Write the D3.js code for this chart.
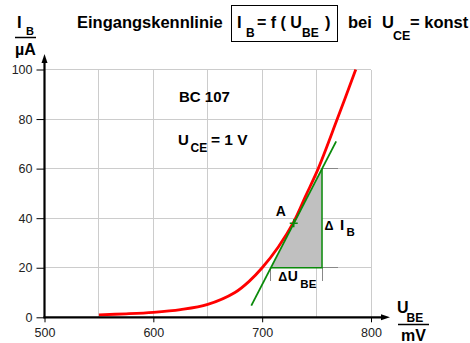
<!DOCTYPE html>
<html>
<head>
<meta charset="utf-8">
<script src="https://cdn.jsdelivr.net/npm/d3@7"></script>
<style>
  body { margin: 0; background: #fff; }
  svg { display: block; }
  text { font-family: "Liberation Sans", Arial, sans-serif; }
</style>
</head>
<body>
<svg id="chart" width="470" height="343"></svg>
<script>
// Input characteristic of the BC 107 transistor, U_CE = 1 V
const uTicks = [500, 600, 700, 800];            // mV
const iTicks = [0, 20, 40, 60, 80, 100];        // µA
const gridU = [550, 600, 650, 700, 750, 800];
const gridI = [20, 40, 60, 80, 100];

// measured curve I_B(U_BE)
const curveU = [550, 575, 600, 625, 650, 675, 688, 700, 715, 729, 740, 751.5, 769, 786];
const curveI = [1.0, 1.4, 2.0, 3.1, 5.2, 10.0, 14.5, 20, 28.5, 38.5, 49, 60, 80, 100];

// tangent in operating point A and its slope triangle
const tangentU = [690, 768];
const tangentI = [4.7, 71];
const triU = [708, 755];
const triI = [20, 60];
const pointA = [729, 38];

const svg = d3.select("#chart");
const x = d3.scaleLinear().domain([500, 800]).range([44.5, 371]);
const y = d3.scaleLinear().domain([0, 100]).range([317.3, 69.5]);

const gridColor = "#cccccc";
const green = "#0a8a0a";
const red = "#ff0000";

// grid
const grid = svg.append("g").attr("shape-rendering", "crispEdges");
grid.selectAll("line.v").data(gridU).join("line")
  .attr("x1", d => x(d)).attr("x2", d => x(d))
  .attr("y1", y(100)).attr("y2", y(0))
  .attr("stroke", gridColor).attr("stroke-width", 1);
grid.selectAll("line.h").data(gridI).join("line")
  .attr("x1", x(500)).attr("x2", x(800))
  .attr("y1", d => y(d)).attr("y2", d => y(d))
  .attr("stroke", gridColor).attr("stroke-width", 1);

// slope triangle
const tri = [[triU[0], triI[0]], [triU[1], triI[0]], [triU[1], triI[1]]];
svg.append("polygon")
  .attr("points", tri.map(p => [x(p[0]), y(p[1])].join(",")).join(" "))
  .attr("fill", "#c0c0c0");

// dimension lines
const dim = svg.append("g").attr("stroke", "#888").attr("stroke-width", 1).attr("shape-rendering", "crispEdges");
triI.forEach(v => {
  dim.append("line").attr("x1", x(triU[1])).attr("x2", x(triU[1]) + 16)
    .attr("y1", y(v)).attr("y2", y(v));
});
triU.forEach(v => {
  dim.append("line").attr("x1", x(v)).attr("x2", x(v))
    .attr("y1", y(triI[0])).attr("y2", y(triI[0]) + 13);
});

// characteristic curve
const curve = curveU.map((u, i) => [u, curveI[i]]);
svg.append("path")
  .datum(curve)
  .attr("d", d3.line().x(d => x(d[0])).y(d => y(d[1])).curve(d3.curveCatmullRom.alpha(0.5)))
  .attr("fill", "none").attr("stroke", red).attr("stroke-width", 2.8);

// tangent
svg.append("line")
  .attr("x1", x(tangentU[0])).attr("y1", y(tangentI[0]))
  .attr("x2", x(tangentU[1])).attr("y2", y(tangentI[1]))
  .attr("stroke", green).attr("stroke-width", 1.8);

// triangle legs
svg.append("polyline")
  .attr("points", tri.map(p => [x(p[0]), y(p[1])].join(",")).join(" "))
  .attr("fill", "none").attr("stroke", green).attr("stroke-width", 1.5);

// operating point A
const ax = x(pointA[0]), ay = y(pointA[1]);
svg.append("path")
  .attr("d", `M${ax - 4},${ay}H${ax + 4}M${ax},${ay - 4}V${ay + 4}`)
  .attr("stroke", green).attr("stroke-width", 1.5);

// axes
const yAxis = svg.append("g").attr("transform", `translate(${x(500)},0)`)
  .call(d3.axisLeft(y).tickValues(iTicks).tickSize(8).tickPadding(4));
yAxis.select(".domain").remove();
yAxis.selectAll("line").attr("stroke", "#000");
yAxis.selectAll("text").attr("font-size", 12.5).attr("fill", "#222")
  .style("font-family", "'Liberation Sans', Arial, sans-serif");

const xAxis = svg.append("g").attr("transform", `translate(0,${y(0)})`)
  .call(d3.axisBottom(x).tickValues(uTicks).tickSize(5).tickPadding(6));
xAxis.select(".domain").remove();
xAxis.selectAll("line").attr("stroke", "#000");
xAxis.selectAll("text").attr("font-size", 12.5).attr("fill", "#222")
  .style("font-family", "'Liberation Sans', Arial, sans-serif");

svg.append("line").attr("x1", x(500)).attr("x2", x(500))
  .attr("y1", y(0) + 1).attr("y2", 60).attr("stroke", "#000").attr("stroke-width", 2.2);
svg.append("path").attr("d", `M${x(500)},54 L${x(500) - 3},63 L${x(500) + 3},63 Z`).attr("fill", "#000");
svg.append("line").attr("x1", x(500) - 1).attr("x2", 384)
  .attr("y1", y(0)).attr("y2", y(0)).attr("stroke", "#000").attr("stroke-width", 2.2);
svg.append("path").attr("d", `M390,${y(0)} L381,${y(0) - 3} L381,${y(0) + 3} Z`).attr("fill", "#000");

// text helper
function label(txt, px, py, size, bold = true, anchor = "start") {
  return svg.append("text").attr("x", px).attr("y", py)
    .attr("font-size", size).attr("font-weight", bold ? "bold" : "normal")
    .attr("text-anchor", anchor).attr("fill", "#000").text(txt);
}

// title
label("Eingangskennlinie", 77, 28, 16.5);
svg.append("rect").attr("x", 231.5).attr("y", 5.5).attr("width", 106).attr("height", 36)
  .attr("fill", "none").attr("stroke", "#000").attr("stroke-width", 1);
label("I", 237, 28, 16.5);
label("B", 246, 37, 12);
label("= f ( U", 257, 28, 16);
label("BE", 302, 37, 12);
label(")", 325, 28, 16.5);
label("bei", 348, 28, 16.5);
label("U", 382, 28, 16.5);
label("CE", 393, 40, 12.5);
label("= konst", 410, 28, 16.5);

// axis titles
label("I", 17, 28, 16.5);
label("B", 26, 35, 11);
svg.append("line").attr("x1", 15).attr("x2", 36).attr("y1", 37.5).attr("y2", 37.5)
  .attr("stroke", "#000").attr("stroke-width", 1.5);
label("µA", 15, 55, 16);

label("U", 397, 313, 16);
label("BE", 406.5, 321.5, 12);
svg.append("line").attr("x1", 398).attr("x2", 429).attr("y1", 324.5).attr("y2", 324.5)
  .attr("stroke", "#000").attr("stroke-width", 1.5);
label("mV", 401, 341, 16);

// device info
label("BC 107", 179, 102, 15);
label("U", 178, 145, 15);
label("CE", 190.5, 152, 12);
label("= 1 V", 211, 145, 15.5);

// triangle annotations
label("A", ax - 18, ay - 7, 14);
label("Δ", x(triU[1]) + 2.5, 229.5, 12.5);
label("I", x(triU[1]) + 18, 229.5, 15);
label("B", x(triU[1]) + 24.5, 235.5, 11.5);
label("Δ", x(triU[0]) + 7.5, 281, 12.5);
label("U", x(triU[0]) + 17, 280.5, 14);
label("BE", x(triU[0]) + 29.5, 288, 11.5);
</script>
</body>
</html>
